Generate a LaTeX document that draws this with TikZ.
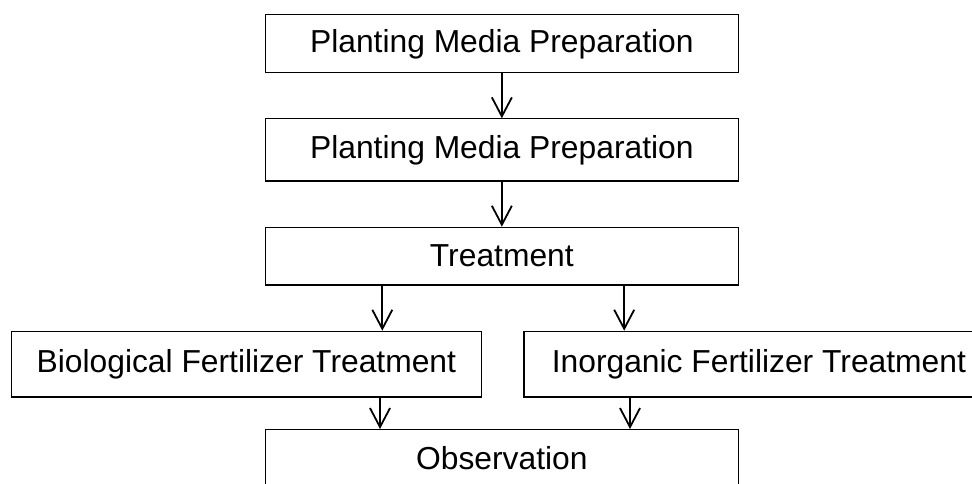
\documentclass[tikz,border=0pt]{standalone}
\usepackage{fontspec}
\setmainfont{Liberation Sans}
\usetikzlibrary{arrows.meta}
\begin{document}
\begin{tikzpicture}[x=1pt,y=-1pt,
  box/.style={draw=black,line width=1.2pt,fill=white,inner sep=0pt,anchor=north west,
    font=\fontsize{31.8}{36}\selectfont},
  arr/.style={draw=black,line width=1.8pt,-{Straight Barb[length=19pt,width=20pt,line width=1.8pt]}}]
\useasboundingbox (0,0) rectangle (972,484);
\clip (0,0) rectangle (972,484);
\fill[white] (0,0) rectangle (972,484);
\node[box,minimum width=472.5pt,minimum height=58pt] (b1) at (265,14.3) {Planting Media Preparation};
\node[box,minimum width=472.5pt,minimum height=62pt] (b2) at (265,118.3) {Planting Media Preparation};
\node[box,minimum width=472.5pt,minimum height=57.7pt] (b3) at (265,226.7) {Treatment};
\node[box,minimum width=470.5pt,minimum height=65.6pt] (b4) at (10.5,330.7) {Biological Fertilizer Treatment};
\node[box,minimum width=470pt,minimum height=65.6pt] (b5) at (523.3,330.7) {Inorganic Fertilizer Treatment};
\node[box,minimum width=472.5pt,minimum height=58pt] (b6) at (265,429) {Observation};
\coordinate (xa) at (382.3,0);
\coordinate (xb) at (624.2,0);
\coordinate (xc) at (380,0);
\coordinate (xd) at (630,0);
\coordinate (d5) at (630,398);
\draw[arr] (b1.south) -- (b2.north);
\draw[arr] (b2.south) -- (b3.north);
\draw[arr] (b3.south -| xa) -- (b4.north -| xa);
\draw[arr] (b3.south -| xb) -- (b5.north -| xb);
\draw[arr] (b4.south -| xc) -- (b6.north -| xc);
\draw[arr] (d5) -- (b6.north -| xd);
\end{tikzpicture}
\end{document}
